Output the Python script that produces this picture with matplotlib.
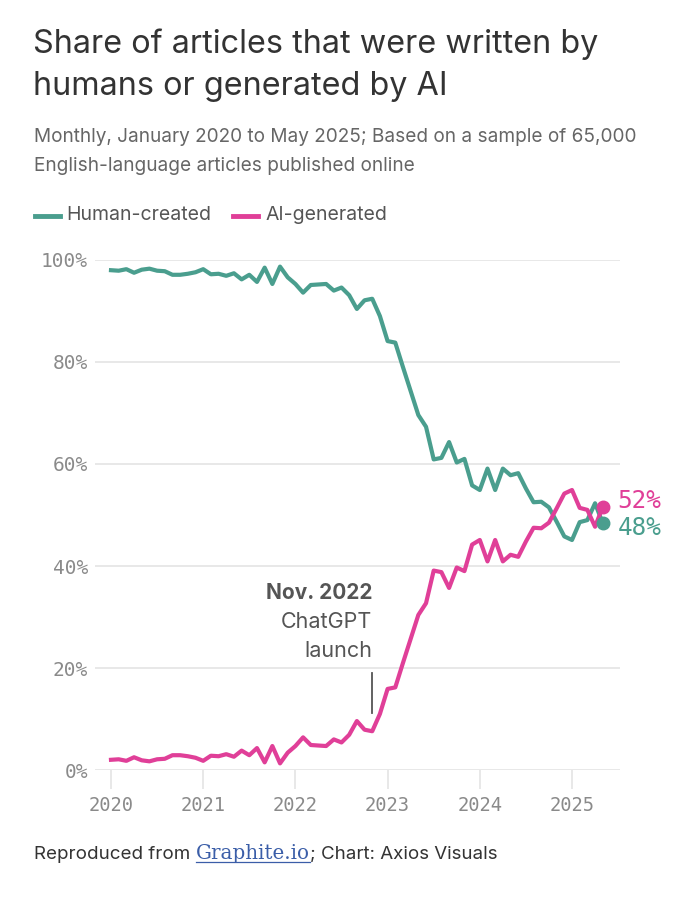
import matplotlib
matplotlib.use("Agg")
import matplotlib.pyplot as plt
from matplotlib.lines import Line2D
import numpy as np

# Monthly shares, Jan 2020 .. May 2025 (65 months)
human_created = [
    98.0, 97.9, 98.2, 97.5, 98.1, 98.3, 97.9, 97.8, 97.1, 97.1, 97.3, 97.6,
    98.2, 97.2, 97.3, 96.9, 97.4, 96.2, 97.1, 95.7, 98.5, 95.3, 98.7, 96.6,
    95.3, 93.6, 95.1, 95.2, 95.3, 94.0, 94.6, 93.1, 90.4, 92.1, 92.4, 89.0,
    84.1, 83.8, 79.0, 74.3, 69.6, 67.3, 60.9, 61.2, 64.3, 60.3, 61.0, 55.8,
    54.9, 59.1, 54.9, 59.1, 57.8, 58.2, 55.2, 52.5, 52.6, 51.5, 48.7, 45.8,
    45.1, 48.6, 49.0, 52.3, 48.4,
]
ai_generated = [
    2.0, 2.1, 1.8, 2.5, 1.9, 1.7, 2.1, 2.2, 2.9, 2.9, 2.7, 2.4,
    1.8, 2.8, 2.7, 3.1, 2.6, 3.8, 2.9, 4.3, 1.5, 4.7, 1.3, 3.4,
    4.7, 6.4, 4.9, 4.8, 4.7, 6.0, 5.4, 6.9, 9.6, 7.9, 7.6, 11.0,
    15.9, 16.2, 21.0, 25.7, 30.4, 32.7, 39.1, 38.8, 35.7, 39.7, 39.0, 44.2,
    45.1, 40.9, 45.1, 40.9, 42.2, 41.8, 44.8, 47.5, 47.4, 48.5, 51.3, 54.2,
    54.9, 51.4, 51.0, 47.7, 51.6,
]
year_ticks = [2020, 2021, 2022, 2023, 2024, 2025]
pct_ticks = [0, 20, 40, 60, 80, 100]
months = 2020 + np.arange(len(human_created)) / 12.0
launch_month = 2022 + 10 / 12.0  # Nov. 2022

TEAL = "#4a9e8e"
PINK = "#e03f98"
SANS = ["Inter", "DejaVu Sans"]
MONO = ["DejaVu Sans Mono"]

fig = plt.figure(figsize=(6.99, 8.98), dpi=100)
W, H = 699, 898

def fx(px):
    return px / W

def fy(py):
    return 1 - py / H

ax = fig.add_axes([fx(95), fy(770), fx(620) - fx(95), fy(260) - fy(770)])

ax.plot(months, human_created, color=TEAL, lw=3, solid_joinstyle="round", clip_on=False, zorder=3)
ax.plot(months, ai_generated, color=PINK, lw=3, solid_joinstyle="round", clip_on=False, zorder=3)
ax.plot(months[-1], human_created[-1], "o", color=TEAL, ms=9, clip_on=False, zorder=4)
ax.plot(months[-1], ai_generated[-1], "o", color=PINK, ms=9, clip_on=False, zorder=5)

ax.text(months[-1] + 0.16, ai_generated[-1] + 1.2, f"{ai_generated[-1]:.0f}%", color=PINK,
        fontsize=17.5, family=MONO, va="center", ha="left")
ax.text(months[-1] + 0.16, human_created[-1] - 0.9, f"{human_created[-1]:.0f}%", color=TEAL,
        fontsize=17.5, family=MONO, va="center", ha="left")

ax.set_xlim(2020 - 16 / 92.2, 2020 + 509 / 92.2)
ax.set_ylim(0, 100)
ax.set_yticks(pct_ticks)
ax.set_yticklabels([f"{v}%" for v in pct_ticks], family=MONO, fontsize=14, color="#8a8a8a")
ax.set_xticks(year_ticks)
ax.set_xticklabels([str(y) for y in year_ticks], family=MONO, fontsize=13.5, color="#8a8a8a")
ax.tick_params(axis="y", length=0, pad=5)
ax.tick_params(axis="x", length=14, width=1.1, color="#e2e2e2", pad=5)
ax.grid(axis="y", color="#e2e2e2", lw=1.1)
ax.set_axisbelow(True)
for s in ax.spines.values():
    s.set_visible(False)
ax.set_facecolor("none")

# ChatGPT annotation
ax.plot([launch_month, launch_month], [11.2, 19], color="#555555", lw=1.3)
ax.text(launch_month, 34.7, "Nov. 2022", ha="right", va="center", fontsize=15,
        fontweight="bold", color="#555555", family=SANS)
ax.text(launch_month, 29.0, "ChatGPT", ha="right", va="center", fontsize=15.5,
        color="#555555", family=SANS)
ax.text(launch_month, 23.3, "launch", ha="right", va="center", fontsize=15.5,
        color="#555555", family=SANS)

# title and subtitle
fig.text(fx(33), fy(44), "Share of articles that were written by", fontsize=23.3,
         color="#333333", family=SANS, va="center")
fig.text(fx(33), fy(87), "humans or generated by AI", fontsize=23.3,
         color="#333333", family=SANS, va="center")
fig.text(fx(34), fy(137), "Monthly, January 2020 to May 2025; Based on a sample of 65,000",
         fontsize=13.7, color="#666666", family=SANS, va="center")
fig.text(fx(34), fy(166), "English-language articles published online",
         fontsize=13.7, color="#666666", family=SANS, va="center")

# legend
fig.add_artist(Line2D([fx(35), fx(60)], [fy(216), fy(216)], color=TEAL, lw=3.5))
fig.text(fx(66), fy(215), "Human-created", fontsize=14, color="#555555", family=SANS, va="center")
fig.add_artist(Line2D([fx(233), fx(258)], [fy(216), fy(216)], color=PINK, lw=3.5))
fig.text(fx(265), fy(215), "AI-generated", fontsize=14, color="#555555", family=SANS, va="center")

# footer with link-style source
renderer = fig.canvas.get_renderer()
t1 = fig.text(fx(34), fy(859), "Reproduced from ", fontsize=13.5, color="#333333",
              family=SANS, va="baseline")
x_next = t1.get_window_extent(renderer).x1 / W
t2 = fig.text(x_next, fy(859), "Graphite.io", fontsize=14.3, color="#3b5ea8",
              family=["DejaVu Serif"], va="baseline")
bb = t2.get_window_extent(renderer)
fig.add_artist(Line2D([bb.x0 / W, bb.x1 / W], [fy(862), fy(862)], color="#3b5ea8", lw=0.9))
fig.text(bb.x1 / W, fy(859), "; Chart: Axios Visuals", fontsize=13.5, color="#333333",
         family=SANS, va="baseline")

fig.savefig("out.png", dpi=100, facecolor="white")
